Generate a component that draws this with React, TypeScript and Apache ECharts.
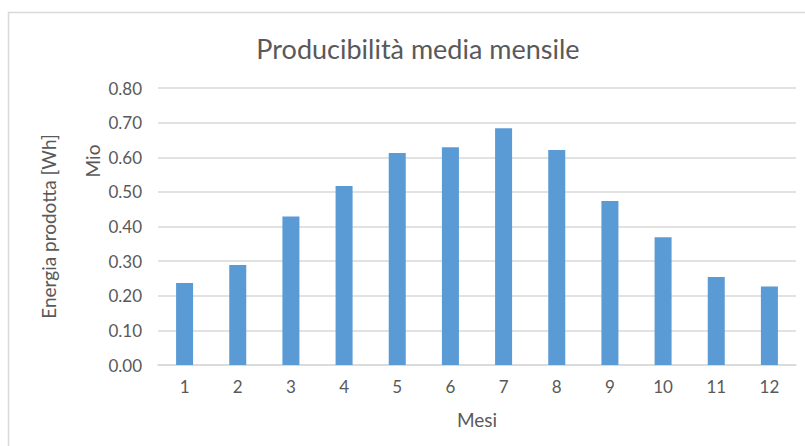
import React, { useEffect, useRef } from "react";
import * as echarts from "echarts";

// Monthly average production (millions of Wh)
const months: string[] = ["1", "2", "3", "4", "5", "6", "7", "8", "9", "10", "11", "12"];
const energy: number[] = [0.237, 0.289, 0.429, 0.517, 0.612, 0.629, 0.684, 0.621, 0.474, 0.369, 0.254, 0.227];

const titleText = "Producibilità media mensile";
const yAxisName = "Energia prodotta [Wh]";
const unitsLabel = "Mio";
const xAxisName = "Mesi";

const FONT = "Lato, 'Open Sans', sans-serif";
const TEXT = "#595959";
const GRID = "#d9d9d9";
const BAR = "#5b9bd5";

export default function App() {
  const ref = useRef<HTMLDivElement>(null);

  useEffect(() => {
    if (!ref.current) return;
    const chart = echarts.init(ref.current, null, { renderer: "svg" });
    chart.setOption({
      animation: false,
      backgroundColor: "#ffffff",
      textStyle: { fontFamily: FONT },
      title: {
        text: titleText,
        left: 413,
        top: 30,
        textAlign: "center",
        textStyle: { fontFamily: FONT, fontSize: 27, fontWeight: "normal", color: TEXT },
      },
      grid: { left: 158, right: 9, top: 88, bottom: 81 },
      xAxis: {
        type: "category",
        data: months,
        name: xAxisName,
        nameLocation: "middle",
        nameGap: 45,
        nameTextStyle: { fontFamily: FONT, fontSize: 19, color: TEXT },
        axisTick: { show: false },
        axisLine: { lineStyle: { color: GRID, width: 1.5 } },
        axisLabel: { margin: 13, fontFamily: FONT, fontSize: 17, color: TEXT },
      },
      yAxis: {
        type: "value",
        min: 0,
        max: 0.8,
        interval: 0.1,
        name: yAxisName,
        nameLocation: "middle",
        nameGap: 100,
        nameTextStyle: { fontFamily: FONT, fontSize: 19, color: TEXT },
        axisLine: { show: false },
        axisTick: { show: false },
        axisLabel: {
          margin: 16,
          fontFamily: FONT,
          fontSize: 17,
          color: TEXT,
          formatter: (v: number) => v.toFixed(2),
        },
        splitLine: { lineStyle: { color: GRID, width: 1.5 } },
      },
      graphic: [
        {
          type: "rect",
          shape: { x: 8.5, y: 12.5, width: 900, height: 500 },
          style: { fill: "none", stroke: GRID, lineWidth: 1.5 },
          silent: true,
          z: -1,
        },
        {
          type: "text",
          x: 92,
          y: 161,
          rotation: Math.PI / 2,
          style: {
            text: unitsLabel,
            fontFamily: FONT,
            fontSize: 19,
            fill: TEXT,
            textAlign: "center",
            textVerticalAlign: "middle",
          },
        },
      ],
      series: [
        {
          type: "bar",
          data: energy,
          barWidth: "32%",
          itemStyle: { color: BAR },
        },
      ],
    });
    return () => chart.dispose();
  }, []);

  return (
    <div
      ref={ref}
      style={{ position: "absolute", left: 0, top: 0, width: 805, height: 446 }}
    />
  );
}
